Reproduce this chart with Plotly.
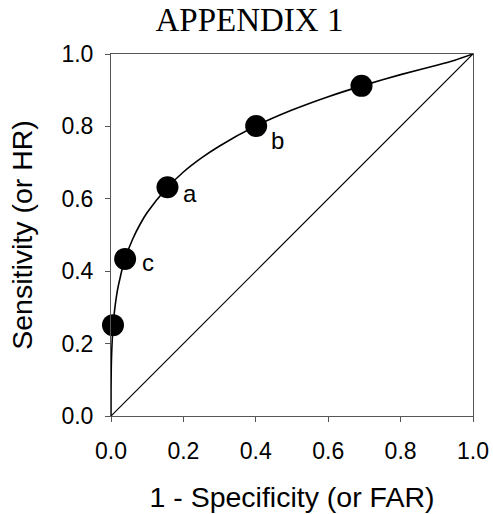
import plotly.graph_objects as go

# Observed operating points (1 - specificity, sensitivity)
point_far = [0.0055, 0.039, 0.156, 0.401, 0.692]
point_hr = [0.251, 0.434, 0.632, 0.801, 0.912]

# Smooth ROC curve
curve_far = [0.0, 0.0001, 0.001, 0.005, 0.01, 0.02, 0.04, 0.06, 0.08, 0.10,
             0.15, 0.20, 0.25, 0.30, 0.40, 0.50, 0.60, 0.70, 0.80, 0.90, 0.95, 1.0]
curve_hr = [0.0, 0.07, 0.146, 0.238, 0.293, 0.359, 0.437, 0.489, 0.529, 0.562,
            0.625, 0.674, 0.713, 0.746, 0.801, 0.845, 0.882, 0.914, 0.943, 0.969, 0.983, 1.0]

# Chance diagonal
diag_far = [0.0, 1.0]
diag_hr = [0.0, 1.0]

# Point labels
label_text = ["c", "a", "b"]
label_far = [0.039, 0.156, 0.401]
label_hr = [0.434, 0.632, 0.801]
label_dx = [23, 23, 21]
label_dy = [-4, -6, -14]

tick_vals = [0.0, 0.2, 0.4, 0.6, 0.8, 1.0]
tick_text = ["0.0", "0.2", "0.4", "0.6", "0.8", "1.0"]

FONT = "Arial, Liberation Sans"

fig = go.Figure()
fig.add_trace(go.Scatter(x=diag_far, y=diag_hr, mode="lines",
                         line=dict(color="black", width=1.2), hoverinfo="skip"))
fig.add_trace(go.Scatter(x=curve_far, y=curve_hr, mode="lines",
                         line=dict(color="black", width=1.6, shape="spline", smoothing=0.6),
                         hoverinfo="skip"))
fig.add_trace(go.Scatter(x=point_far, y=point_hr, mode="markers",
                         marker=dict(color="black", size=22, line=dict(width=0)),
                         cliponaxis=False))

for t, x, y, dx, dy in zip(label_text, label_far, label_hr, label_dx, label_dy):
    fig.add_annotation(x=x, y=y, text=t, showarrow=False, xanchor="center", yanchor="middle",
                       xshift=dx, yshift=dy, font=dict(family=FONT, size=24, color="black"))

axis_common = dict(range=[0, 1], tickvals=tick_vals, ticktext=tick_text, ticks="outside",
                   ticklen=5, tickcolor="#555", tickwidth=1, showline=True, linecolor="#555",
                   linewidth=1, mirror=True, showgrid=False, zeroline=False, automargin=False,
                   tickfont=dict(family=FONT, size=23, color="black"))

fig.update_xaxes(**axis_common, ticklabelstandoff=9,
                 title=dict(text="1 - Specificity (or FAR)", standoff=24,
                            font=dict(family=FONT, size=28.5, color="black")))
fig.update_yaxes(**axis_common, ticklabelstandoff=7,
                 title=dict(text="Sensitivity (or HR)", standoff=20,
                            font=dict(family=FONT, size=28.5, color="black")))

fig.update_layout(
    width=493, height=514,
    margin=dict(l=111, r=20, t=54, b=98, autoexpand=False),
    paper_bgcolor="white", plot_bgcolor="white",
    showlegend=False,
    title=dict(text="APPENDIX 1", x=0.506, xanchor="center", y=0.962, yanchor="middle",
               font=dict(family="Liberation Serif, Times New Roman", size=33, color="black")),
)

fig.write_html("out.html", config={"displayModeBar": False},
               post_script="document.body.style.margin='0';document.body.style.overflow='hidden';")
